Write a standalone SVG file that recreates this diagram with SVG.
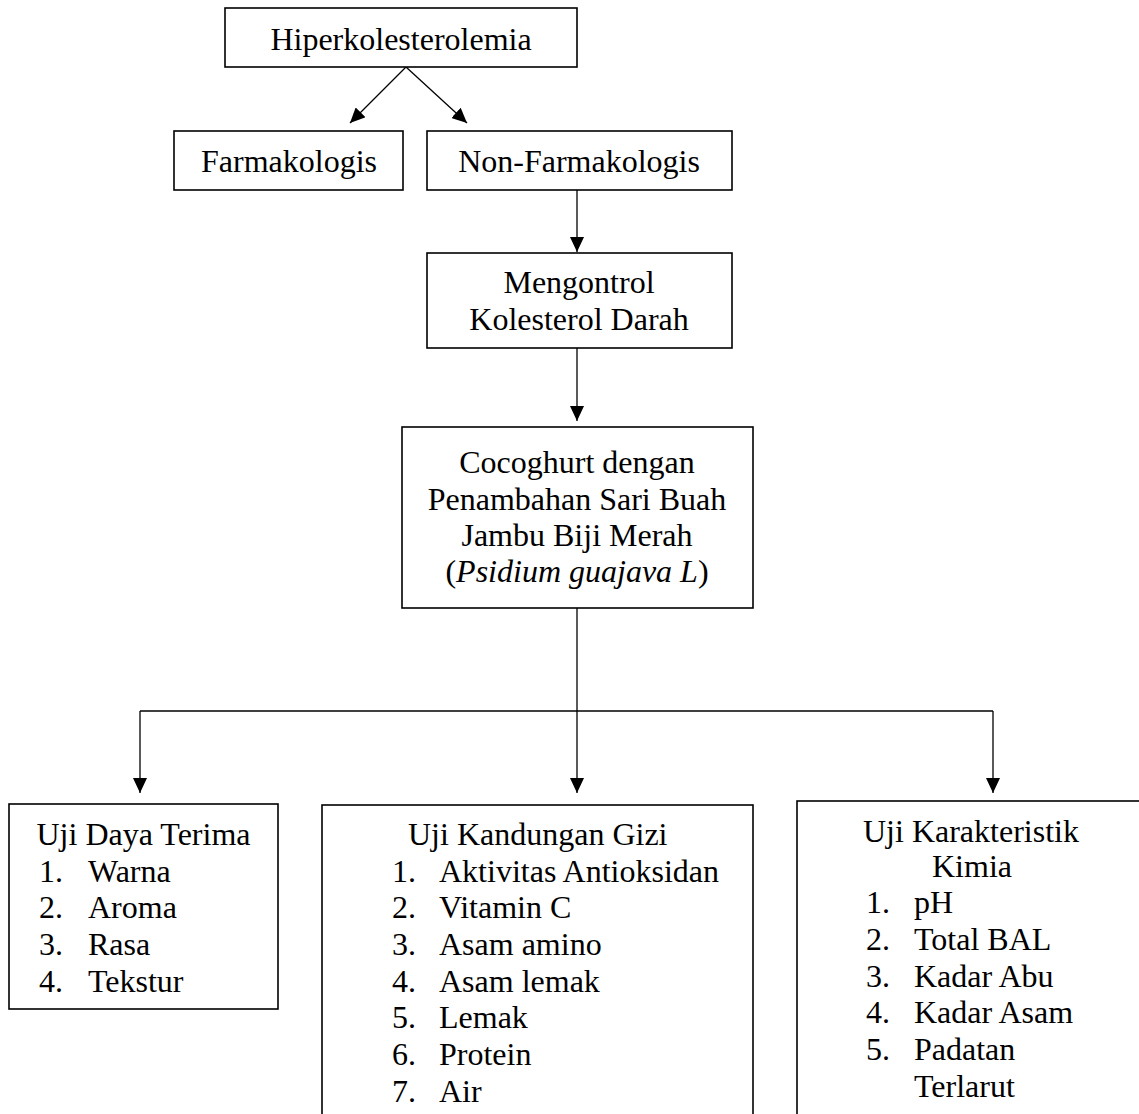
<svg xmlns="http://www.w3.org/2000/svg" width="1139" height="1114" viewBox="0 0 1139 1114">
  <defs>
    <marker id="arrow" viewBox="0 0 15 14" refX="15" refY="7" markerWidth="15" markerHeight="14" markerUnits="userSpaceOnUse" orient="auto">
      <path d="M0,0 L15,7 L0,14 z" fill="#000"/>
    </marker>
    <style>
      .box { fill: #fff; stroke: #000; stroke-width: 1.6; }
      .conn { fill: none; stroke: #000; stroke-width: 1.3; }
      text { font-family: "Liberation Serif", "Times New Roman", serif; font-size: 32px; fill: #000; }
      .c { text-anchor: middle; }
    </style>
  </defs>
  <rect width="1139" height="1114" fill="#fff"/>

  <!-- connectors -->
  <g id="connectors">
    <line class="conn" x1="406" y1="67" x2="350" y2="123" marker-end="url(#arrow)"/>
    <line class="conn" x1="406" y1="67" x2="467" y2="123" marker-end="url(#arrow)"/>
    <line class="conn" x1="577" y1="190" x2="577" y2="252" marker-end="url(#arrow)"/>
    <line class="conn" x1="577" y1="348" x2="577" y2="421" marker-end="url(#arrow)"/>
    <line class="conn" x1="577" y1="608" x2="577" y2="711"/>
    <line class="conn" x1="140" y1="711" x2="993" y2="711"/>
    <line class="conn" x1="140" y1="711" x2="140" y2="793" marker-end="url(#arrow)"/>
    <line class="conn" x1="577" y1="711" x2="577" y2="793" marker-end="url(#arrow)"/>
    <line class="conn" x1="993" y1="711" x2="993" y2="793" marker-end="url(#arrow)"/>
  </g>

  <g id="hiperkolesterolemia">
    <rect class="box" x="225" y="8" width="352" height="59"/>
    <text class="c" x="401" y="50">Hiperkolesterolemia</text>
  </g>

  <g id="farmakologis">
    <rect class="box" x="174" y="131" width="229" height="59"/>
    <text class="c" x="289" y="172">Farmakologis</text>
  </g>

  <g id="non-farmakologis">
    <rect class="box" x="427" y="131" width="305" height="59"/>
    <text class="c" x="579" y="172">Non-Farmakologis</text>
  </g>

  <g id="mengontrol">
    <rect class="box" x="427" y="253" width="305" height="95"/>
    <text class="c" x="579" y="293">Mengontrol</text>
    <text class="c" x="579" y="330">Kolesterol Darah</text>
  </g>

  <g id="cocoghurt">
    <rect class="box" x="402" y="427" width="351" height="181"/>
    <text class="c" x="577" y="473">Cocoghurt dengan</text>
    <text class="c" x="577" y="510">Penambahan Sari Buah</text>
    <text class="c" x="577" y="546">Jambu Biji Merah</text>
    <text class="c" x="577" y="582">(<tspan font-style="italic">Psidium guajava L</tspan>)</text>
  </g>

  <g id="uji-daya-terima">
    <rect class="box" x="9" y="804" width="269" height="205"/>
    <text class="c" x="143.5" y="845">Uji Daya Terima</text>
    <text x="39" y="882">1.</text><text x="88" y="882">Warna</text>
    <text x="39" y="918">2.</text><text x="88" y="918">Aroma</text>
    <text x="39" y="955">3.</text><text x="88" y="955">Rasa</text>
    <text x="39" y="992">4.</text><text x="88" y="992">Tekstur</text>
  </g>

  <g id="uji-kandungan-gizi">
    <rect class="box" x="322" y="805" width="431" height="330"/>
    <text x="408" y="845">Uji Kandungan Gizi</text>
    <text x="392" y="882">1.</text><text x="439" y="882">Aktivitas Antioksidan</text>
    <text x="392" y="918">2.</text><text x="439" y="918">Vitamin C</text>
    <text x="392" y="955">3.</text><text x="439" y="955">Asam amino</text>
    <text x="392" y="992">4.</text><text x="439" y="992">Asam lemak</text>
    <text x="392" y="1028">5.</text><text x="439" y="1028">Lemak</text>
    <text x="392" y="1065">6.</text><text x="439" y="1065">Protein</text>
    <text x="392" y="1102">7.</text><text x="439" y="1102">Air</text>
  </g>

  <g id="uji-karakteristik-kimia">
    <rect class="box" x="797" y="801" width="360" height="340"/>
    <text x="863" y="842">Uji Karakteristik</text>
    <text x="932" y="877">Kimia</text>
    <text x="866" y="913">1.</text><text x="914" y="913">pH</text>
    <text x="866" y="950">2.</text><text x="914" y="950">Total BAL</text>
    <text x="866" y="987">3.</text><text x="914" y="987">Kadar Abu</text>
    <text x="866" y="1023">4.</text><text x="914" y="1023">Kadar Asam</text>
    <text x="866" y="1060">5.</text><text x="914" y="1060">Padatan</text>
    <text x="914" y="1097">Terlarut</text>
  </g>
</svg>
